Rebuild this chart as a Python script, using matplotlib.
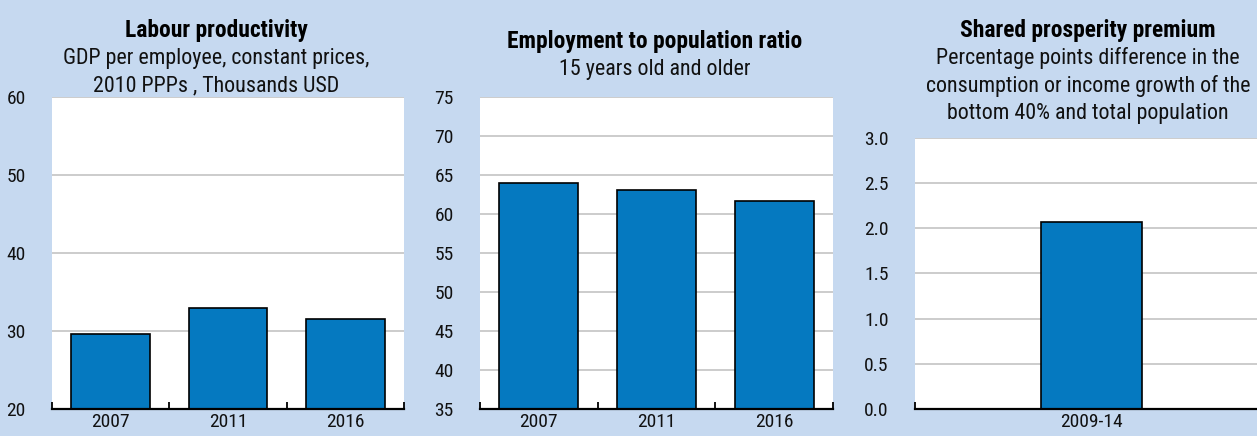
import numpy as np
import matplotlib
matplotlib.use("Agg")
import matplotlib.pyplot as plt
from matplotlib import font_manager

W, H = 1257, 436
BG = "#c6d9f0"
C_BAR = "#0579c0"
C_GRID = "#c8c8c8"

# an Arial Narrow look-alike with a bold face, if one is installed
fonts = {}
for f in font_manager.fontManager.ttflist:
    fonts.setdefault(f.name, set()).add(int(f.weight) if str(f.weight).isdigit() else 400)
FACE = "Liberation Sans"
for cand in ["Nimbus Sans Narrow", "Liberation Sans Narrow", "Arial Narrow", "Roboto Condensed"]:
    if cand in fonts and any(w >= 600 for w in fonts[cand]):
        FACE = cand
        break
plt.rcParams["font.family"] = [FACE, "DejaVu Sans"]

# ── data ──────────────────────────────────────────────
years = ["2007", "2011", "2016"]
productivity = [29.6, 33.0, 31.5]
employment = [64.0, 63.1, 61.7]
period = ["2009-14"]
premium = [2.07]

titles = ["Labour productivity", "Employment to population ratio", "Shared prosperity premium"]
subtitles = [
    ["GDP per employee, constant prices,", "2010 PPPs , Thousands USD"],
    ["15 years old and older"],
    ["Percentage points difference in the", "consumption or income growth of the",
     "bottom 40% and total population"],
]

fig = plt.figure(figsize=(W / 100, H / 100), dpi=100, facecolor=BG)
renderer = fig.canvas.get_renderer()


def size_for(s, target_px, **kw):
    # font size that makes s about target_px wide
    t = fig.text(0, 0, s, fontsize=10, **kw)
    w = t.get_window_extent(renderer).width
    t.remove()
    return 10 * target_px / w


FS_TITLE = size_for("Labour productivity", 183, fontweight="bold")
FS_SUB = size_for("Percentage points difference in the", 302)
FS_TICK = size_for("2007", 38)


def px_ax(left, right, top, bottom):
    return fig.add_axes([left / W, 1 - bottom / H, (right - left) / W, (bottom - top) / H])


def panel(ax, cats, vals, ylim, yticks, fmt, width):
    n = len(cats)
    x = np.arange(n)
    ax.set_facecolor("white")
    ax.bar(x, vals, width, color=C_BAR, edgecolor="black", linewidth=1.2, zorder=3)
    ax.set_xlim(-0.5, n - 0.5)
    ax.set_ylim(*ylim)
    ax.set_yticks(yticks)
    ax.set_yticklabels([fmt.format(v) for v in yticks])
    ax.set_xticks(x)
    ax.set_xticklabels(cats)
    ax.set_xticks(np.arange(n + 1) - 0.5, minor=True)
    ax.tick_params(axis="x", which="major", length=0, pad=3, labelsize=FS_TICK, colors="#111")
    ax.tick_params(axis="x", which="minor", direction="in", length=5, width=1.3, color="black")
    ax.tick_params(axis="y", length=0, pad=19, labelsize=FS_TICK, colors="#111")
    ax.grid(axis="y", color=C_GRID, linewidth=1.3, zorder=0)
    for s in ("left", "right", "top"):
        ax.spines[s].set_visible(False)
    ax.spines["bottom"].set_linewidth(1.6)
    ax.spines["bottom"].set_zorder(4)


ax1 = px_ax(52, 404, 97, 409)
panel(ax1, years, productivity, (20, 60), [20, 30, 40, 50, 60], "{:.0f}", 0.67)

ax2 = px_ax(480, 833, 97, 409)
panel(ax2, years, employment, (35, 75), list(range(35, 80, 5)), "{:.0f}", 0.67)

ax3 = px_ax(915, 1268, 137.7, 409)
panel(ax3, period, premium, (0, 3), [0, 0.5, 1.0, 1.5, 2.0, 2.5, 3.0], "{:.1f}", 0.286)

# titles
centers = [216, 655, 1088]
first_base = [37, 48, 37]
for cx, yb, t, subs in zip(centers, first_base, titles, subtitles):
    fig.text(cx / W, 1 - yb / H, t, ha="center", va="baseline",
             fontsize=FS_TITLE, fontweight="bold", color="black")
    for i, s in enumerate(subs):
        fig.text(cx / W, 1 - (yb + 27.3 * (i + 1)) / H, s, ha="center", va="baseline",
                 fontsize=FS_SUB, color="#111")

fig.savefig("out.png", dpi=100, facecolor=BG)
